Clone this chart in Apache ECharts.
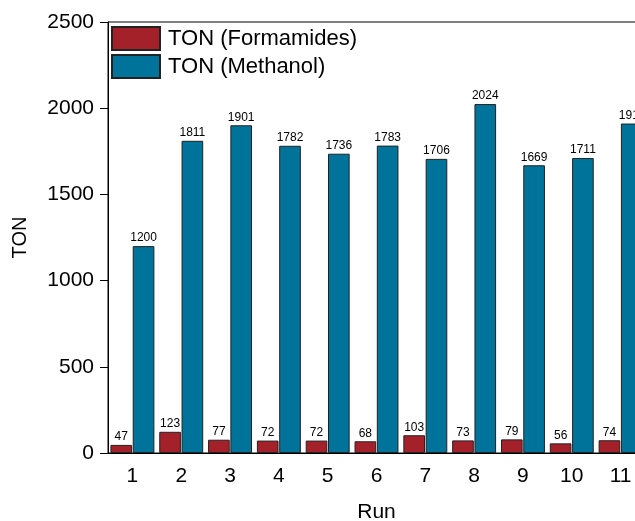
<!DOCTYPE html>
<html><head><meta charset="utf-8">
<script src="https://cdn.jsdelivr.net/npm/echarts@6/dist/echarts.min.js"></script>
<style>html,body{margin:0;padding:0;background:#fff}#c{width:635px;height:521px}</style>
</head><body><div id="c"></div>
<script>
const runs = ['1','2','3','4','5','6','7','8','9','10','11'];
const formamides = [47,123,77,72,72,68,103,73,79,56,74];
const methanol = [1200,1811,1901,1782,1736,1783,1706,2024,1669,1711,1911];
const yTicks = {min:0, max:2500, interval:500};

const chart = echarts.init(document.getElementById('c'), null, {renderer:'canvas'});
const font = 'Liberation Sans, Arial, sans-serif';
const lbl = {show:true, position:'top', distance:2, fontSize:12, color:'#000', fontFamily:font};
chart.setOption({
  animation:false,
  textStyle:{fontFamily:font},
  grid:{left:108, top:22, width:537, height:431, show:true, borderColor:'#000', borderWidth:1,
    containLabel:false, outerBoundsMode:'none'},
  legend:{orient:'vertical', left:111, top:26, padding:0, itemWidth:48, itemHeight:23, itemGap:3, icon:'rect',
    textStyle:{fontSize:22, color:'#000', fontFamily:font, padding:[0,0,0,3]},
    data:['TON (Formamides)','TON (Methanol)']},
  xAxis:{type:'category', data:runs,
    axisLine:{lineStyle:{color:'#000'}}, axisTick:{show:false},
    axisLabel:{fontSize:21, color:'#000', margin:13},
    name:'Run', nameLocation:'middle', nameGap:49, nameTextStyle:{fontSize:21, color:'#000'}},
  yAxis:{type:'value', min:yTicks.min, max:yTicks.max, interval:yTicks.interval,
    splitLine:{show:false},
    axisLine:{show:true, lineStyle:{color:'#000'}},
    axisTick:{show:true, length:8, lineStyle:{color:'#000'}},
    axisLabel:{fontSize:21, color:'#000', margin:14, formatter:v => String(v)},
    name:'TON', nameLocation:'middle', nameGap:78, nameRotate:90, nameTextStyle:{fontSize:20, color:'#000'}},
  series:[
    {name:'TON (Formamides)', type:'bar', data:formamides, barGap:'3%', barCategoryGap:'10%',
     itemStyle:{color:'#A5212A', borderColor:'#222', borderWidth:1}, label:lbl},
    {name:'TON (Methanol)', type:'bar', data:methanol, barGap:'3%', barCategoryGap:'10%',
     itemStyle:{color:'#00739A', borderColor:'#222', borderWidth:1}, label:lbl}
  ]
});
</script></body></html>
